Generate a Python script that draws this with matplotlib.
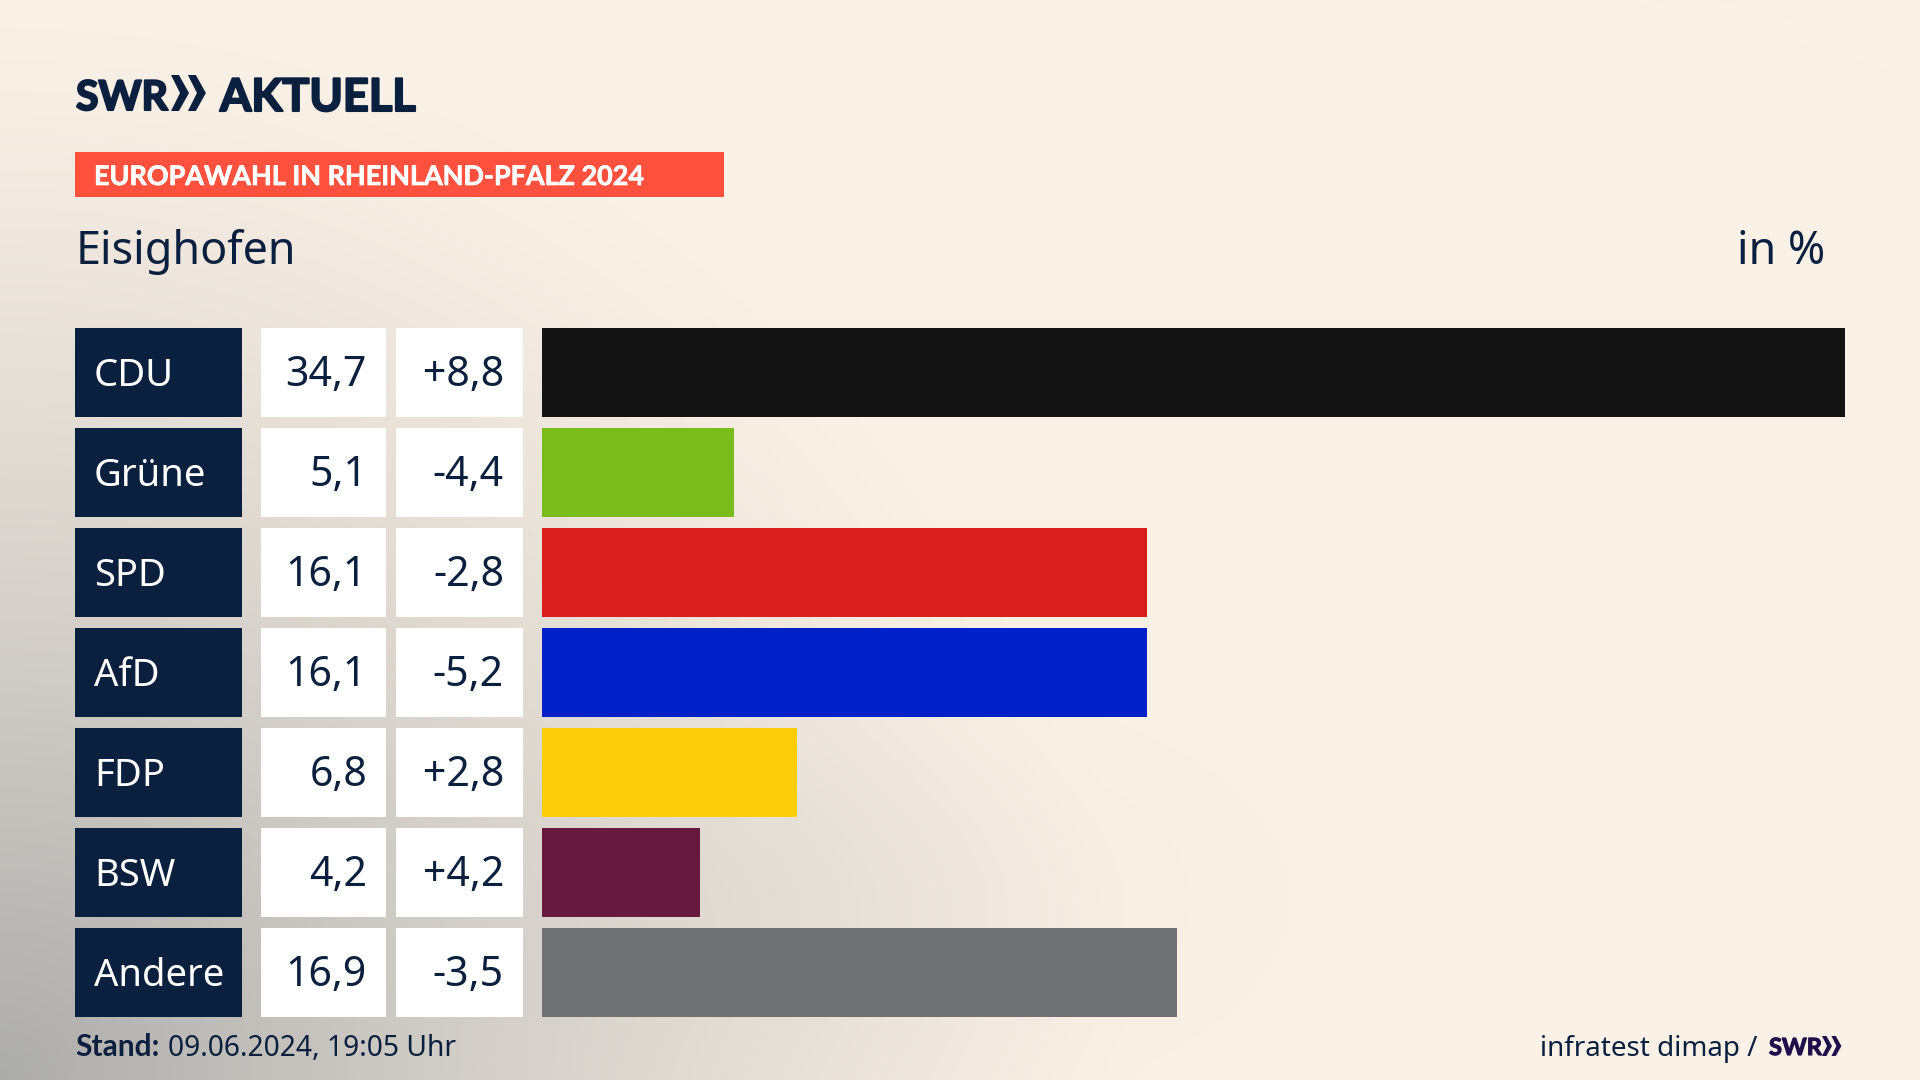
import numpy as np
import matplotlib
matplotlib.use("Agg")
from matplotlib import pyplot as plt
from matplotlib import patheffects
from matplotlib.patches import Polygon

#chart data
parties = ["CDU", "Grüne", "SPD", "AfD", "FDP", "BSW", "Andere"]
shares = [34.7, 5.1, 16.1, 16.1, 6.8, 4.2, 16.9]
share_labels = ["34,7", "5,1", "16,1", "16,1", "6,8", "4,2", "16,9"]
change_labels = ["+8,8", "-4,4", "-2,8", "-5,2", "+2,8", "+4,2", "-3,5"]
bar_colors = ["#141414", "#7abd1a", "#d81f1e", "#0120c8", "#ffce0a", "#661a3e", "#707173"]

NAVY = "#0b1f3f"
W, H = 1920, 1080
BODY = "Noto Sans"
LOGO = "Lato"

def pos(x0, x1, y0, y1):
    #pixel box (from top left) to figure fractions
    return [x0 / W, 1 - y1 / H, (x1 - x0) / W, (y1 - y0) / H]

def chevrons(ax, x, top, bottom, color):
    #two >> arrows of the SWR logo
    h = bottom - top
    mid = (top + bottom) / 2
    for x0 in (x, x + h * 0.47):
        pts = [(x0, top), (x0 + h * 0.22, top), (x0 + h * 0.5, mid),
               (x0 + h * 0.22, bottom), (x0, bottom), (x0 + h * 0.25, mid)]
        ax.add_patch(Polygon(pts, closed=True, color=color, lw=0))

def thick(color, width):
    #logo lettering is heavier than Lato Bold
    return [patheffects.withStroke(linewidth=width, foreground=color)]

fig = plt.figure(figsize=(W / 100, H / 100), dpi=100)

#background: cream with grey glow from the lower left corner
yy, xx = np.mgrid[0:H:270j, 0:W:480j]
d = np.sqrt((xx / 1150) ** 2 + ((H - yy) / 1100) ** 2)
glow = np.clip(1 - d, 0, 1) ** 1.3
blob = 0.09 * np.exp(-((xx - 850) / 340) ** 2 - ((yy - 900) / 170) ** 2)
t = np.clip(glow + blob, 0, 1)[..., None]
cream = np.array([251, 242, 231]) / 255
grey = np.array([172, 172, 170]) / 255
bg = fig.add_axes([0, 0, 1, 1])
bg.imshow(cream * (1 - t) + grey * t, extent=[0, W, H, 0], aspect="auto", interpolation="bilinear")
bg.set_xlim(0, W)
bg.set_ylim(H, 0)
bg.axis("off")

y = np.arange(len(parties))

#party, share and change columns
columns = [(75, 242, NAVY, parties, "white", "left", 19, 27.5),
           (261, 386, "white", share_labels, NAVY, "right", 19, 29.5),
           (396, 523, "white", change_labels, NAVY, "right", 19, 29.5)]
for x0, x1, face, labels, color, align, pad, size in columns:
    ax = fig.add_axes(pos(x0, x1, 322.5, 1022.5))
    ax.barh(y, [1] * len(y), height=0.885, color=face, left=0)
    ax.set_xlim(0, 1)
    ax.set_ylim(6.5, -0.5)
    ax.axis("off")
    for i, label in enumerate(labels):
        if align == "left":
            tx = pad / (x1 - x0)
        else:
            tx = 1 - pad / (x1 - x0)
        ax.text(tx, i + 0.135, label, ha=align, va="baseline", color=color,
                fontsize=size, family=BODY)

#result bars
ax = fig.add_axes(pos(542, 1845, 322.5, 1022.5))
ax.barh(y, shares, height=0.885, color=bar_colors)
ax.set_xlim(0, max(shares))
ax.set_ylim(6.5, -0.5)
ax.axis("off")

#header
bg.text(76, 110, "SWR", color=NAVY, fontsize=29.5, fontweight="bold", family=LOGO, va="baseline",
        path_effects=thick(NAVY, 1.5))
chevrons(bg, 171, 75, 111, NAVY)
bg.text(220, 111, "AKTUELL", color=NAVY, fontsize=32.5, fontweight="bold", family=LOGO, va="baseline",
        path_effects=thick(NAVY, 1.5))
bg.fill_between([75, 724], 152, 197, color="#ff513d", lw=0)
bg.text(94, 185, "EUROPAWAHL IN RHEINLAND-PFALZ 2024", color="white", fontsize=19.4,
        fontweight="bold", family=LOGO, va="baseline", path_effects=thick("white", 0.5))
bg.text(76, 264, "Eisighofen", color=NAVY, fontsize=32.3, family=BODY, va="baseline")
bg.text(1825, 264, "in %", color=NAVY, fontsize=32.3, family=BODY, va="baseline", ha="right")

#footer
bg.text(75, 1056, "Stand:", color=NAVY, fontsize=21.5, fontweight="bold", family=LOGO, va="baseline")
bg.text(168, 1056, "09.06.2024, 19:05 Uhr", color=NAVY, fontsize=20.3, family=BODY, va="baseline")
bg.text(1757, 1056, "infratest dimap /", color=NAVY, fontsize=20, family=BODY, va="baseline", ha="right")
bg.text(1769, 1055, "SWR", color="#1f0f4a", fontsize=17, fontweight="bold", family=LOGO, va="baseline",
        path_effects=thick("#1f0f4a", 0.8))
chevrons(bg, 1822, 1036, 1056, "#1f0f4a")

fig.savefig("out.png", dpi=100)
